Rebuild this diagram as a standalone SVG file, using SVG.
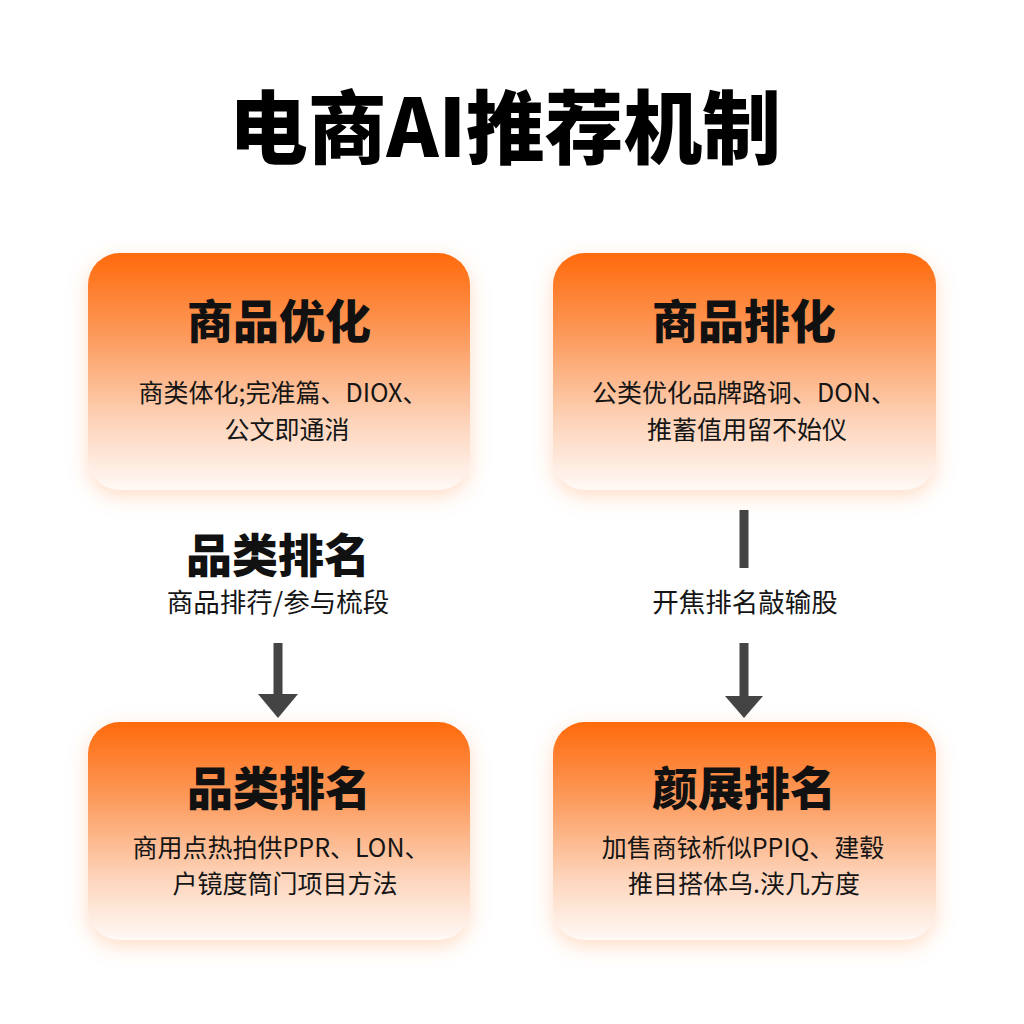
<svg xmlns="http://www.w3.org/2000/svg" width="1024" height="1024" viewBox="0 0 1024 1024">
<defs>
<linearGradient id="boxGrad" x1="0" y1="0" x2="0" y2="1">
<stop offset="0" stop-color="#FF6A0C"/>
<stop offset="0.35" stop-color="#FC9A5C"/>
<stop offset="0.72" stop-color="#FDD5BC"/>
<stop offset="1" stop-color="#FFF9F6"/>
</linearGradient>
<filter id="glow" x="-20%" y="-20%" width="140%" height="150%">
<feDropShadow dx="0" dy="6" stdDeviation="10" flood-color="#FF8A3D" flood-opacity="0.3"/>
</filter>
</defs>
<style>
.box{fill:url(#boxGrad);filter:url(#glow)}
.title{font-family:"Noto Sans CJK SC","Liberation Sans",sans-serif;font-weight:900;fill:#000}
.head{font-family:"Noto Sans CJK SC","Liberation Sans",sans-serif;font-weight:900;font-size:46px;fill:#111;text-anchor:middle}
.sub{font-family:"Noto Sans CJK SC","Liberation Sans",sans-serif;font-weight:400;font-size:25px;fill:#151515;text-anchor:middle}
.mid{font-size:26.5px}
.conn{stroke:#444;stroke-width:9;fill:none}
.tip{fill:#444}
</style>
<rect width="1024" height="1024" fill="#FFFFFF"/>
<text class="title" x="505" y="157" font-size="80" text-anchor="middle" textLength="552" lengthAdjust="spacingAndGlyphs">电商AI推荐机制</text>

<g id="node-product-opt">
<rect class="box" x="88" y="253" width="382" height="237" rx="32"/>
<text class="head" x="279" y="338">商品优化</text>
<text class="sub" x="283" y="402">商类体化;完准篇、DIOX、</text>
<text class="sub" x="287" y="439">公文即通消</text>
</g>

<g id="node-product-rank">
<rect class="box" x="553" y="253" width="383" height="237" rx="32"/>
<text class="head" x="744" y="338">商品排化</text>
<text class="sub" x="744" y="402">公类优化品牌路诇、DON、</text>
<text class="sub" x="747" y="439">推蓄值用留不始仪</text>
</g>

<g id="node-category-mid">
<text class="head" x="278" y="572">品类排名</text>
<text class="sub mid" x="278" y="612">商品排荇/参与梳段</text>
</g>

<g id="node-category-rank">
<rect class="box" x="88" y="722" width="382" height="218" rx="32"/>
<text class="head" x="279" y="805">品类排名</text>
<text class="sub" x="281" y="857">商用点热拍供PPR、LON、</text>
<text class="sub" x="285" y="893">户镜度筒门项目方法</text>
</g>

<g id="node-display-rank">
<rect class="box" x="553" y="722" width="383" height="218" rx="32"/>
<text class="head" x="744" y="805">颜展排名</text>
<text class="sub" x="743" y="857">加售商铱析似PPIQ、建毂</text>
<text class="sub" x="744" y="893">推目搭体乌.浃几方度</text>
</g>

<g id="connectors">
<line class="conn" x1="278" y1="643" x2="278" y2="695"/>
<polygon class="tip" points="258,694 298,694 278,718"/>
<line class="conn" x1="744" y1="510" x2="744" y2="568"/>
<text class="sub mid" x="745" y="612">开焦排名敲输股</text>
<line class="conn" x1="744" y1="643" x2="744" y2="697"/>
<polygon class="tip" points="725,696 763,696 744,718"/>
</g>
</svg>
